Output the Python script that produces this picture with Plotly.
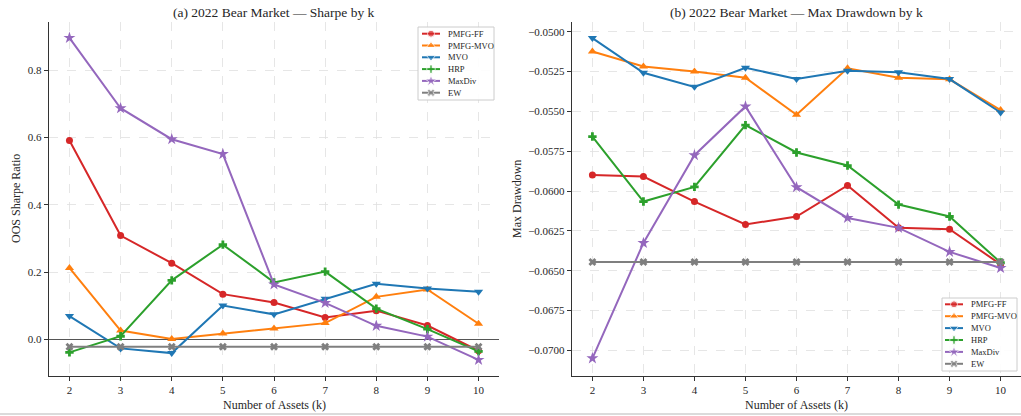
import plotly.graph_objects as go

k_values = [2, 3, 4, 5, 6, 7, 8, 9, 10]
series_names = ["PMFG-FF", "PMFG-MVO", "MVO", "HRP", "MaxDiv", "EW"]

sharpe_pmfg_ff = [0.591, 0.309, 0.227, 0.135, 0.110, 0.066, 0.086, 0.042, -0.033]
sharpe_pmfg_mvo = [0.213, 0.027, 0.002, 0.018, 0.033, 0.049, 0.127, 0.149, 0.047]
sharpe_mvo = [0.070, -0.026, -0.040, 0.101, 0.075, 0.121, 0.166, 0.152, 0.142]
sharpe_hrp = [-0.038, 0.010, 0.176, 0.282, 0.170, 0.202, 0.092, 0.031, -0.035]
sharpe_maxdiv = [0.896, 0.687, 0.595, 0.551, 0.164, 0.109, 0.041, 0.009, -0.060]
sharpe_ew = [-0.021] * 9

mdd_pmfg_ff = [-0.05900, -0.05909, -0.06066, -0.06210, -0.06160, -0.05965, -0.06231, -0.06240, -0.06460]
mdd_pmfg_mvo = [-0.05124, -0.05218, -0.05249, -0.05289, -0.05521, -0.05230, -0.05289, -0.05299, -0.05492]
mdd_mvo = [-0.05040, -0.05258, -0.05346, -0.05226, -0.05297, -0.05245, -0.05255, -0.05297, -0.05507]
mdd_hrp = [-0.05658, -0.06066, -0.05974, -0.05586, -0.05758, -0.05840, -0.06085, -0.06160, -0.06449]
mdd_maxdiv = [-0.07050, -0.06326, -0.05775, -0.05469, -0.05976, -0.06169, -0.06231, -0.06382, -0.06483]
mdd_ew = [-0.06445] * 9

sharpe_ticks = [0.0, 0.2, 0.4, 0.6, 0.8]
mdd_ticks = [-0.0700, -0.0675, -0.0650, -0.0625, -0.0600, -0.0575, -0.0550, -0.0525, -0.0500]

colors = ["#d62728", "#ff7f0e", "#1f77b4", "#2ca02c", "#9467bd", "#7f7f7f"]
symbols = ["circle", "triangle-up", "triangle-down", "cross", "star", "x"]
marker_sizes = [7, 8, 8, 7, 9, 7]

sharpe_data = [sharpe_pmfg_ff, sharpe_pmfg_mvo, sharpe_mvo, sharpe_hrp, sharpe_maxdiv, sharpe_ew]
mdd_data = [mdd_pmfg_ff, mdd_pmfg_mvo, mdd_mvo, mdd_hrp, mdd_maxdiv, mdd_ew]

FONT = "Liberation Serif, Times New Roman, serif"
TXT = "#262626"

# page geometry (body margin removed via post_script)
W, H = 1021, 416


def fx(p):
    return p / W


def fy(p):
    return 1 - p / H


fig = go.Figure()
for name, ys, c, s, ms in zip(series_names, sharpe_data, colors, symbols, marker_sizes):
    fig.add_trace(go.Scatter(x=k_values, y=ys, name=name, mode="lines+markers",
                             line=dict(color=c, width=2), marker=dict(symbol=s, size=ms, color=c),
                             xaxis="x", yaxis="y", showlegend=False))
for name, ys, c, s, ms in zip(series_names, mdd_data, colors, symbols, marker_sizes):
    fig.add_trace(go.Scatter(x=k_values, y=ys, name=name, mode="lines+markers",
                             line=dict(color=c, width=2), marker=dict(symbol=s, size=ms, color=c),
                             xaxis="x2", yaxis="y2", showlegend=False))

# custom compact legends drawn on a full-page overlay axis measured in pixels
legend_boxes = [
    dict(x0=418, x1=494, y0=27, y1=100, first=33.7, step=11.8, lx0=422, lx1=440, tx=446),
    dict(x0=942, x1=1017, y0=298, y1=371, first=304.3, step=11.9, lx0=945, lx1=963, tx=969),
]
shapes = []
annotations = []
for lb in legend_boxes:
    shapes.append(dict(type="rect", xref="x3", yref="y3", x0=lb["x0"], x1=lb["x1"], y0=lb["y0"], y1=lb["y1"],
                       fillcolor="rgba(255,255,255,0.9)", line=dict(color="#cccccc", width=1), layer="between"))
    ys_leg = [lb["first"] + i * lb["step"] for i in range(len(series_names))]
    for name, c, s, yy in zip(series_names, colors, symbols, ys_leg):
        shapes.append(dict(type="line", xref="x3", yref="y3", x0=lb["lx0"], x1=lb["lx1"], y0=yy, y1=yy,
                           line=dict(color=c, width=2), layer="between"))
        annotations.append(dict(text=name, x=fx(lb["tx"]), y=fy(yy), xref="paper", yref="paper",
                                xanchor="left", yanchor="middle", showarrow=False,
                                font=dict(family=FONT, size=8.5, color=TXT)))
    fig.add_trace(go.Scatter(x=[(lb["lx0"] + lb["lx1"]) / 2] * len(series_names), y=ys_leg, mode="markers",
                             marker=dict(symbol=symbols, size=marker_sizes, color=colors), xaxis="x3", yaxis="y3",
                             showlegend=False, hoverinfo="skip", cliponaxis=False))

axis_common = dict(showline=True, linecolor="#333333", linewidth=1.2, ticks="outside",
                   ticklen=4, tickcolor="#333333", tickfont=dict(family=FONT, size=11, color=TXT),
                   showgrid=True, gridcolor="#e0e0e0", griddash="dash", gridwidth=0.8,
                   mirror=False)

# panel geometry in pixels
L_X0, L_X1 = 49, 499
R_X0, R_X1 = 572, 1021
P_Y0, P_Y1 = 22, 376

fig.update_layout(
    width=W, height=H, autosize=False,
    margin=dict(l=0, r=0, t=0, b=0),
    paper_bgcolor="white", plot_bgcolor="rgba(0,0,0,0)",
    font=dict(family=FONT, color=TXT),
    showlegend=False,
    hovermode=False,
    xaxis=dict(axis_common, domain=[fx(L_X0), fx(L_X1)], range=[1.6, 10.4], tickvals=k_values,
               zeroline=False, anchor="y"),
    yaxis=dict(axis_common, domain=[fy(P_Y1), fy(P_Y0)], range=[-0.108, 0.943], tickvals=sharpe_ticks,
               tickformat=".1f", zeroline=True, zerolinecolor="#555555", zerolinewidth=1.2, anchor="x"),
    xaxis2=dict(axis_common, domain=[fx(R_X0), min(1.0, fx(R_X1))], range=[1.6, 10.4], tickvals=k_values,
                zeroline=False, anchor="y2"),
    yaxis2=dict(axis_common, domain=[fy(P_Y1), fy(P_Y0)], range=[-0.07161, -0.04939], tickvals=mdd_ticks,
                tickformat=".4f", zeroline=False, anchor="x2"),
    xaxis3=dict(domain=[0, 1], range=[0, W], visible=False, showgrid=False, zeroline=False,
                fixedrange=True, anchor="y3"),
    yaxis3=dict(domain=[0, 1], range=[H, 0], visible=False, showgrid=False, zeroline=False,
                fixedrange=True, anchor="x3"),
    shapes=shapes + [
        dict(type="line", xref="paper", yref="paper", x0=0, x1=1, y0=fy(414), y1=fy(414),
             line=dict(color="#cfcfcf", width=1.5)),
    ],
    annotations=annotations + [
        dict(text="(a) 2022 Bear Market — Sharpe by k", x=fx((L_X0 + L_X1) / 2), y=fy(12),
             xref="paper", yref="paper", showarrow=False, xanchor="center", yanchor="middle",
             font=dict(family=FONT, size=13.5, color=TXT)),
        dict(text="(b) 2022 Bear Market — Max Drawdown by k", x=fx((R_X0 + R_X1) / 2), y=fy(12),
             xref="paper", yref="paper", showarrow=False, xanchor="center", yanchor="middle",
             font=dict(family=FONT, size=13.5, color=TXT)),
        dict(text="Number of Assets (k)", x=fx((L_X0 + L_X1) / 2), y=fy(405),
             xref="paper", yref="paper", showarrow=False, xanchor="center", yanchor="middle",
             font=dict(family=FONT, size=12, color=TXT)),
        dict(text="Number of Assets (k)", x=fx((R_X0 + R_X1) / 2), y=fy(405),
             xref="paper", yref="paper", showarrow=False, xanchor="center", yanchor="middle",
             font=dict(family=FONT, size=12, color=TXT)),
        dict(text="OOS Sharpe Ratio", x=fx(16), y=fy((P_Y0 + P_Y1) / 2), textangle=-90,
             xref="paper", yref="paper", showarrow=False, xanchor="center", yanchor="middle",
             font=dict(family=FONT, size=12, color=TXT)),
        dict(text="Max Drawdown", x=fx(517), y=fy((P_Y0 + P_Y1) / 2), textangle=-90,
             xref="paper", yref="paper", showarrow=False, xanchor="center", yanchor="middle",
             font=dict(family=FONT, size=12, color=TXT)),
    ],
)

fig.write_html("out.html", config={"displayModeBar": False, "staticPlot": True},
               post_script="document.body.style.margin='0px';")
